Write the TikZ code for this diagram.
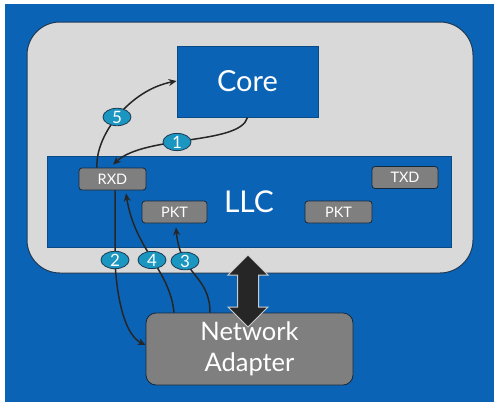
\documentclass[tikz,border=0pt]{standalone}
\usepackage{fontspec}
\setmainfont{Lato}
\usetikzlibrary{shapes.geometric,arrows.meta}
\definecolor{bgblue}{HTML}{0B63B5}
\definecolor{dkblue}{HTML}{0A4A85}
\definecolor{lgray}{HTML}{D9D9D9}
\definecolor{mgray}{HTML}{7F7F7F}
\definecolor{edge}{HTML}{1E3A55}
\definecolor{teal}{HTML}{1A96C0}
\tikzset{
  bluebox/.style={draw=dkblue,line width=0.8pt,fill=bgblue,text=white,inner sep=0pt,anchor=center},
  smallbox/.style={draw=edge!70!black,line width=0.8pt,fill=mgray,text=white,rounded corners=3pt,
    minimum width=66pt,minimum height=22pt,inner sep=0pt,font=\fontsize{14.5}{16}\selectfont},
  badge/.style={ellipse,draw=edge,line width=0.8pt,fill=teal,text=white,minimum width=28pt,
    minimum height=17pt,inner sep=0pt,font=\fontsize{17}{18}\selectfont},
  conn/.style={draw=black!85,line width=1.5pt,-{Stealth[length=8pt,width=7pt]}},
  plain/.style={draw=black!85,line width=1.5pt}
}
\begin{document}
\begin{tikzpicture}[x=1pt,y=-1pt]
\useasboundingbox (0,0) rectangle (499,408);
\fill[white] (0,0) rectangle (499,408);
\fill[bgblue] (5,4) rectangle (494,402);
\draw[edge,line width=1pt,fill=lgray,rounded corners=33pt] (27,22) rectangle (473,273);
\node[bluebox,minimum width=141pt,minimum height=71pt,font=\fontsize{29}{30}\selectfont] (core) at (247.5,81.5) {Core};
\node[bluebox,minimum width=404pt,minimum height=91pt,font=\fontsize{30}{30}\selectfont] (llc) at (249,201.5) {LLC};
\node[smallbox,minimum width=67pt] (rxd) at (112.5,179) {RXD};
\node[smallbox] (txd) at (405,177.5) {TXD};
\node[smallbox,minimum width=65pt] (pkta) at (174.5,212) {PKT};
\node[smallbox,minimum width=67pt] (pktb) at (338.5,212) {PKT};
\node[draw=edge!70!black,line width=0.8pt,fill=mgray,text=white,rounded corners=10pt,
  minimum width=207pt,minimum height=72pt,inner sep=0pt,align=center,
  font=\fontsize{25.5}{31}\selectfont] (na) at (249.5,349) {Network\\Adapter};
% double arrow
\draw[fill=black!85,draw=black!20,line width=1pt] (248,255) -- (268,275) -- (258.5,275) -- (258.5,307)
  -- (268,307) -- (248,327) -- (228,307) -- (237.5,307) -- (237.5,275) -- (228,275) -- cycle;
% connectors
\coordinate (c5s) at ([xshift=-15.5pt]rxd.north);
\coordinate (c5e) at ([yshift=0.5pt]core.west);
\draw[conn] (c5s) .. controls (95,135) and (130,90) .. (c5e);
\draw[conn] (core.south) .. controls (240,145) and (145,135) .. ([xshift=0.5pt,yshift=3pt]rxd.north);
\draw[conn] ([xshift=2.5pt]rxd.south) -- (115,262) .. controls (117,300) and (125,335) .. ([yshift=4pt]na.west);
\draw[conn] ([xshift=-75.5pt]na.north) .. controls (170,270) and (135,250) .. ([xshift=13.5pt,yshift=-3pt]rxd.south);
\draw[conn] ([xshift=-39.5pt]na.north) .. controls (210,275) and (180,275) .. ([xshift=1.5pt,yshift=-4pt]pkta.south);
% badges
\node[badge] (b5) at (117,117) {5};
\node[badge] (b1) at (177,142) {1};
\node[badge] (b2) at (115,260) {2};
\node[badge] (b4) at (152,260) {4};
\node[badge] (b3) at (185,261) {3};
\end{tikzpicture}
\end{document}
